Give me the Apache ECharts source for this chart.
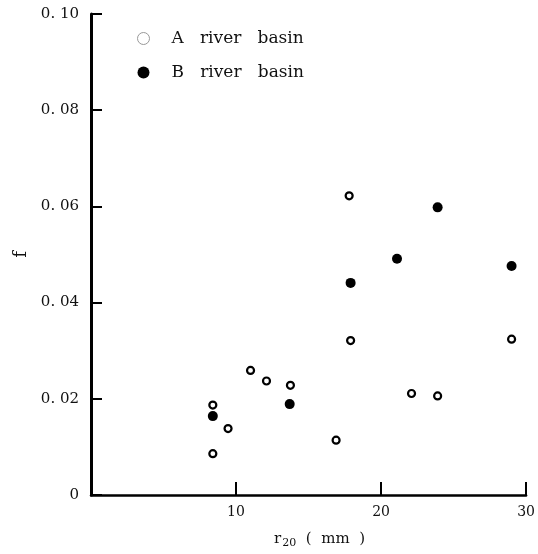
<!DOCTYPE html>
<html>
<head>
<meta charset="utf-8">
<script src="https://cdn.jsdelivr.net/npm/echarts@6/dist/echarts.min.js"></script>
<style>html,body{margin:0;padding:0;background:#fff;}#c{width:538px;height:554px;}</style>
</head>
<body>
<div id="c"></div>
<script>
const seriesNames = ['A river basin', 'B river basin'];
const aX = [8.4, 9.45, 8.4, 11.0, 12.1, 13.75, 16.9, 17.8, 17.9, 29.0, 22.1, 23.9];
const aY = [0.0187, 0.0138, 0.0086, 0.0259, 0.0237, 0.0228, 0.0114, 0.0622, 0.0321, 0.0324, 0.0211, 0.0206];
const bX = [8.4, 13.7, 23.9, 21.1, 29.0, 17.9];
const bY = [0.0164, 0.0189, 0.0598, 0.0491, 0.0476, 0.0441];
const xTicks = [10, 20, 30];
const yTicks = ['0', '0. 02', '0. 04', '0. 06', '0. 08', '0. 10'];

const font = '"DejaVu Serif", "Liberation Serif", serif';
const chart = echarts.init(document.getElementById('c'));
const zip = (xs, ys) => xs.map((x, i) => [x, ys[i]]);

chart.setOption({
  animation: false,
  backgroundColor: '#fff',
  grid: { left: 91, right: 11, top: 14, bottom: 57, containLabel: false },
  legend: {
    orient: 'vertical',
    left: 132,
    top: 25,
    itemGap: 17,
    itemWidth: 12,
    itemHeight: 12,
    textStyle: { fontFamily: font, fontSize: 17, color: '#111', padding: [0, 0, 0, 17] },
    formatter: n => n.replace(/ /g, '   '),
    data: [
      { name: seriesNames[0], icon: 'circle', itemStyle: { color: '#fff', borderColor: '#999', borderWidth: 1 } },
      { name: seriesNames[1], icon: 'circle', itemStyle: { color: '#000', borderWidth: 0 } }
    ]
  },
  xAxis: {
    type: 'value', min: 0, max: 30, interval: 10,
    name: '{r|r}{s|20}{r|  (  mm  )}',
    nameLocation: 'middle', nameGap: 35,
    nameTextStyle: { padding: [0, 0, 0, 22], rich: {
      r: { fontFamily: font, fontSize: 15, color: '#111' },
      s: { fontFamily: font, fontSize: 11, color: '#111', verticalAlign: 'bottom', padding: [8, 0, 0, 1] }
    } },
    axisLine: { show: true, lineStyle: { color: '#000', width: 2.5 } },
    axisTick: { show: true, inside: true, length: 13, lineStyle: { color: '#000', width: 2 } },
    axisLabel: { fontFamily: font, fontSize: 14, color: '#111', margin: 10,
      formatter: v => xTicks.includes(v) ? String(v) : '' },
    splitLine: { show: false }
  },
  yAxis: {
    type: 'value', min: 0, max: 0.1, interval: 0.02,
    name: 'f', nameLocation: 'middle', nameGap: 61, nameRotate: 90,
    nameTextStyle: { fontFamily: font, fontSize: 18, color: '#111' },
    axisLine: { show: true, lineStyle: { color: '#000', width: 3 } },
    axisTick: { show: true, inside: true, length: 11, lineStyle: { color: '#000', width: 2 } },
    axisLabel: { fontFamily: font, fontSize: 15, color: '#111', margin: 12,
      formatter: (v) => yTicks[Math.round(v / 0.02)] },
    splitLine: { show: false }
  },
  series: [
    { name: seriesNames[0], type: 'scatter', data: zip(aX, aY), symbol: 'circle', symbolSize: 7,
      itemStyle: { color: '#fff', borderColor: '#000', borderWidth: 2.2, opacity: 1 } },
    { name: seriesNames[1], type: 'scatter', data: zip(bX, bY), symbol: 'circle', symbolSize: 10,
      itemStyle: { color: '#000', borderWidth: 0, opacity: 1 } }
  ]
});
</script>
</body>
</html>
